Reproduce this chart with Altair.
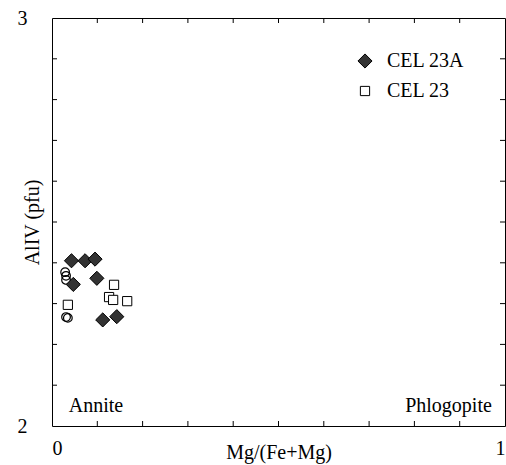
import altair as alt
import pandas as pd

# Data
cel23a_x = [0.043, 0.073, 0.095, 0.047, 0.099, 0.112, 0.143]
cel23a_y = [2.405, 2.405, 2.409, 2.347, 2.362, 2.260, 2.268]

cel23_x = [0.137, 0.126, 0.135, 0.166, 0.035]
cel23_y = [2.346, 2.316, 2.309, 2.306, 2.297]

circ_x = [0.029, 0.031, 0.031, 0.031, 0.035]
circ_y = [2.377, 2.368, 2.358, 2.267, 2.265]

series_names = ["CEL 23A", "CEL 23"]
x_ticks = [0.1, 0.2, 0.3, 0.4, 0.5, 0.6, 0.7, 0.8, 0.9]
y_ticks = [2.1, 2.2, 2.3, 2.4, 2.5, 2.6, 2.7, 2.8, 2.9]

FONT = "Liberation Serif"
W, H = 453, 408

pts = pd.DataFrame(
    {"x": cel23a_x + cel23_x,
     "y": cel23a_y + cel23_y,
     "series": [series_names[0]] * len(cel23a_x) + [series_names[1]] * len(cel23_x)}
)
circ = pd.DataFrame({"x": circ_x, "y": circ_y})
xt = pd.DataFrame({"v": x_ticks})
yt = pd.DataFrame({"v": y_ticks})

xscale = alt.Scale(domain=[0, 1], nice=False, zero=False)
yscale = alt.Scale(domain=[2, 3], nice=False, zero=False)

xaxis = alt.Axis(values=[0, 1], format="d", ticks=False, domain=False, grid=False,
                 labelFont=FONT, labelFontSize=20, labelColor="black",
                 labelPadding=28, labelBaseline="alphabetic",
                 title="Mg/(Fe+Mg)", titleFont=FONT, titleFontSize=20,
                 titleFontWeight="normal", titleColor="black",
                 titleY=32, titleBaseline="alphabetic")
yaxis = alt.Axis(values=[2, 3], format="d", ticks=False, domain=False, grid=False,
                 labelFont=FONT, labelFontSize=20, labelColor="black",
                 labelPadding=25, labelBaseline="middle",
                 title="AlIV (pfu)", titleFont=FONT, titleFontSize=20,
                 titleFontWeight="normal", titleColor="black",
                 titleX=-10, titleBaseline="bottom")

leg = alt.Legend(title=None)
points = alt.Chart(pts).mark_point(filled=True, strokeWidth=1,
                                   opacity=1, fillOpacity=1).encode(
    x=alt.X("x:Q", scale=xscale, axis=xaxis),
    y=alt.Y("y:Q", scale=yscale, axis=yaxis),
    shape=alt.Shape("series:N", scale=alt.Scale(domain=series_names, range=["diamond", "square"]),
                    legend=leg),
    fill=alt.Fill("series:N", scale=alt.Scale(domain=series_names, range=["#333333", "white"]),
                  legend=leg),
    stroke=alt.Stroke("series:N", scale=alt.Scale(domain=series_names, range=["black", "black"]),
                      legend=leg),
    size=alt.Size("series:N", scale=alt.Scale(domain=series_names, range=[200, 85]),
                  legend=leg),
)

circles = alt.Chart(circ).mark_point(shape="circle", filled=False, stroke="black",
                                      strokeWidth=1.2, size=75, opacity=1).encode(
    x=alt.X("x:Q", scale=xscale),
    y=alt.Y("y:Q", scale=yscale),
)

tick_b = alt.Chart(xt).mark_rule(color="black", strokeWidth=1).encode(
    x=alt.X("v:Q", scale=xscale), y=alt.value(H), y2=alt.value(H - 5))
tick_t = alt.Chart(xt).mark_rule(color="black", strokeWidth=1).encode(
    x=alt.X("v:Q", scale=xscale), y=alt.value(0), y2=alt.value(5))
tick_l = alt.Chart(yt).mark_rule(color="black", strokeWidth=1).encode(
    y=alt.Y("v:Q", scale=yscale), x=alt.value(0), x2=alt.value(5))
tick_r = alt.Chart(yt).mark_rule(color="black", strokeWidth=1).encode(
    y=alt.Y("v:Q", scale=yscale), x=alt.value(W), x2=alt.value(W - 5))

ann_left = alt.Chart(pd.DataFrame({"t": ["Annite"], "x": [0.037], "y": [2.035]})).mark_text(
    font=FONT, fontSize=20, align="left", baseline="alphabetic", color="black").encode(
    x=alt.X("x:Q", scale=xscale), y=alt.Y("y:Q", scale=yscale), text="t:N")
ann_right = alt.Chart(pd.DataFrame({"t": ["Phlogopite"], "x": [0.971], "y": [2.035]})).mark_text(
    font=FONT, fontSize=20, align="right", baseline="alphabetic", color="black").encode(
    x=alt.X("x:Q", scale=xscale), y=alt.Y("y:Q", scale=yscale), text="t:N")

chart = alt.layer(tick_b, tick_t, tick_l, tick_r, circles, points, ann_left, ann_right).properties(
    width=W, height=H,
    autosize=alt.AutoSizeParams(type="none"),
    padding={"left": 52, "top": 18, "right": 1, "bottom": 39},
    background="white",
).configure_view(stroke="black", strokeWidth=1).configure_legend(
    orient="none", legendX=303, legendY=33,
    labelFont=FONT, labelFontSize=20, labelColor="black",
    symbolStrokeWidth=1, rowPadding=10,
    labelOffset=12,
)

chart.save("out.html", embed_options={"renderer": "svg", "actions": False})
